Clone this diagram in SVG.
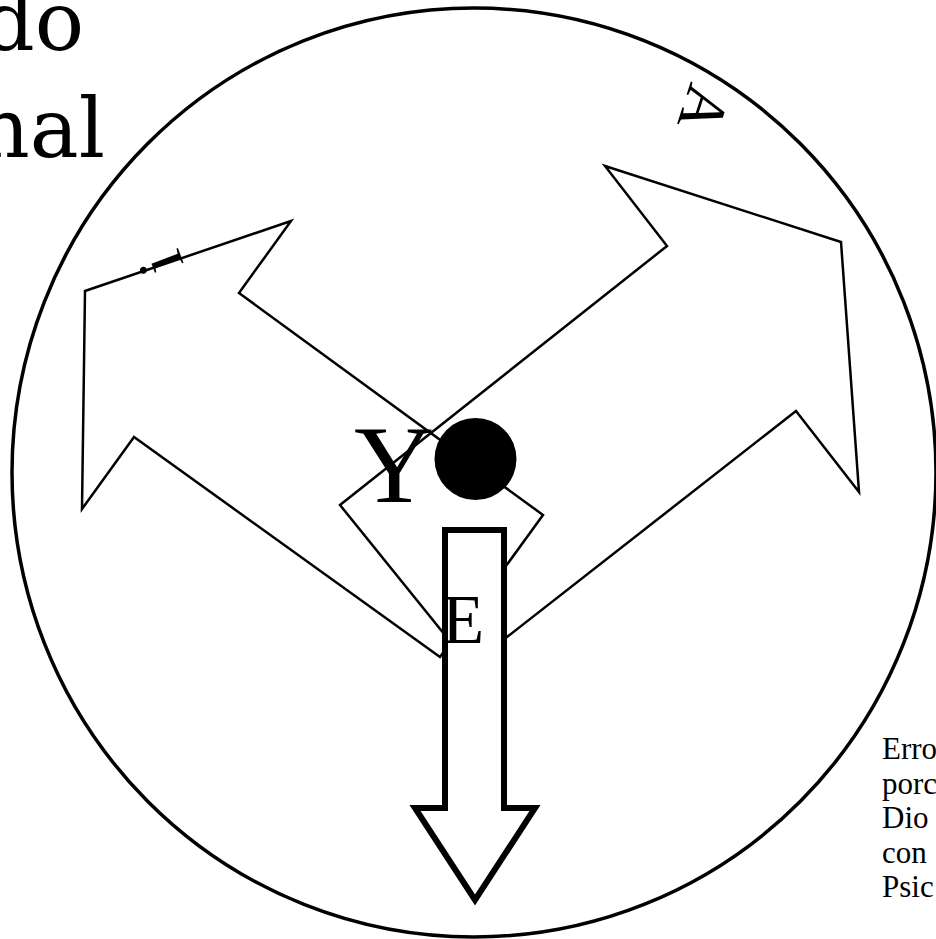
<svg xmlns="http://www.w3.org/2000/svg" width="936" height="939" viewBox="0 0 936 939">
<style>
.thin{fill:none;stroke:#000;stroke-width:2.5;stroke-linejoin:miter}
.serif{font-family:"Liberation Serif","Times New Roman",serif;fill:#000}
.big{font-family:"DejaVu Serif","Liberation Serif",serif;fill:#000;font-size:82px}
</style>
<rect width="936" height="939" fill="#fff"/>
<g id="title">
<text class="big" x="84" y="50" text-anchor="end">do</text>
<text class="big" x="105" y="157" text-anchor="end">nal</text>
</g>
<g id="outer-circle">
<ellipse cx="474" cy="472.5" rx="462" ry="464.5" fill="none" stroke="#000" stroke-width="3.5"/>
</g>
<g id="connectors">
<polygon id="left-arrow" class="thin" points="440,657 134,437 82,509 85,291 291,221 239,293 543,515"/>
<polygon id="right-arrow" class="thin" points="470,666 340,505 667,246 605,166 841,242 859,492 796,411"/>
</g>
<g id="label-i">
<text class="serif" font-size="66" transform="translate(184,264) rotate(-111)">i</text>
</g>
<g id="label-A">
<text class="serif" font-size="63" transform="translate(691,81) rotate(108)">A</text>
</g>
<g id="center">
<circle cx="475.5" cy="459" r="41" fill="#000"/>
<text class="serif" font-size="111" x="354" y="502">Y</text>
</g>
<g id="down-arrow">
<polygon points="445,530 504,530 504,808 535,808 475,900 415,808 445,808" fill="#fff" stroke="#000" stroke-width="6" stroke-linejoin="miter"/>
<text class="serif" font-size="69" x="442" y="643">E</text>
</g>
<g id="note">
<text class="serif" font-size="31" x="882" y="759">Erro</text>
<text class="serif" font-size="31" x="882" y="793.5">porc</text>
<text class="serif" font-size="31" x="882" y="828">Dio</text>
<text class="serif" font-size="31" x="882" y="862.5">con</text>
<text class="serif" font-size="31" x="882" y="897">Psic</text>
</g>
</svg>
